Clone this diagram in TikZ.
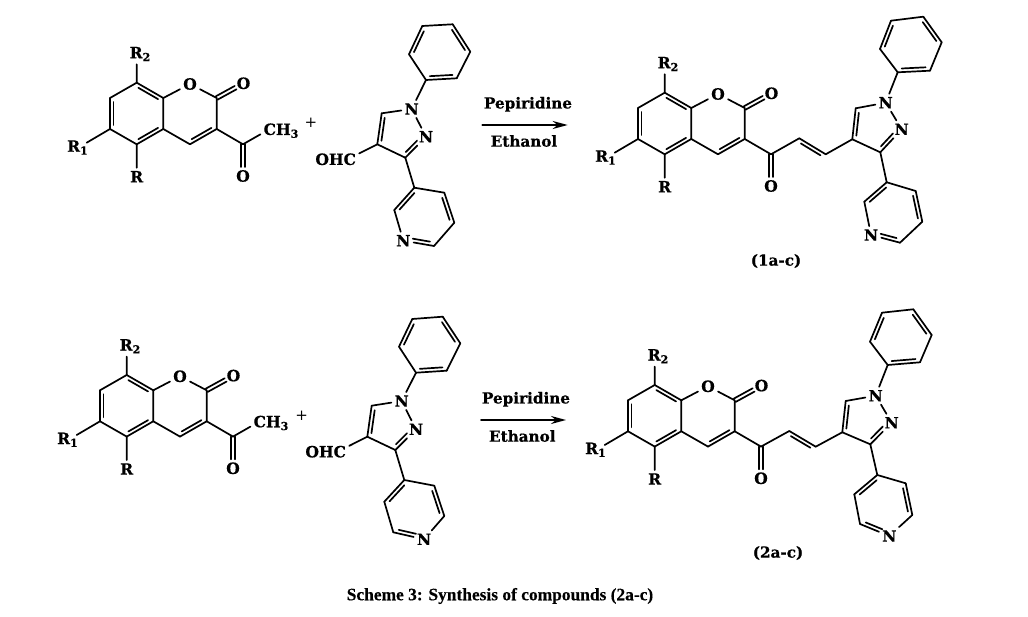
\documentclass[tikz,border=0pt]{standalone}
\usepackage{fontspec}
\setmainfont[BoldFeatures={FakeBold=0.6}]{DejaVu Serif}
\newfontfamily\capfont{Liberation Serif}[BoldFeatures={FakeBold=0.3}]
\usetikzlibrary{calc,arrows.meta}
\newcommand{\sbs}[1]{\raisebox{-0.35ex}{\fontsize{11}{11}\selectfont #1}}
\newcommand{\dbl}[2]{\draw (#1) -- (#2);
  \draw ($(#1)!.13!(#2)!3.6pt!-90:(#2)$) -- ($(#2)!.13!(#1)!3.6pt!90:(#1)$);}
\newcommand{\dbln}[2]{\draw[shorten >=9pt] ($(#1)!1.9pt!90:(#2)$) -- ($(#2)!1.9pt!-90:(#1)$);
  \draw[shorten >=9pt] ($(#1)!1.9pt!-90:(#2)$) -- ($(#2)!1.9pt!90:(#1)$);}
% coumarin core: prefix, shift
\newcommand{\coumarin}[2]{\begin{scope}[shift={#2}]
  \coordinate (#1c8) at (136.7,82.7); \coordinate (#1c7) at (110,98);
  \coordinate (#1c6) at (110,129); \coordinate (#1c5) at (136.7,144.3);
  \coordinate (#1c4a) at (163.3,129); \coordinate (#1c8a) at (163.3,98);
  \coordinate (#1c2) at (216.7,98); \coordinate (#1c3) at (216.7,129);
  \coordinate (#1c4) at (190,144.3); \coordinate (#1ac) at (243,144.3);
  \coordinate (#1r1b) at (86.7,142.7);
  \node[atom] (#1o1) at (190,84) {O};
  \node[atom] (#1o2) at (243.5,83.3) {O};
  \node[atom] (#1o3) at (243,176) {O};
  \node[atom] (#1r) at (136.7,176.7) {R};
  \node[atom] (#1r2) at (140,54) {R\sbs{2}};
  \node[atom] (#1r1) at (77.5,147.5) {R\sbs{1}};
  \end{scope}
  \dbl{#1c8}{#1c8a} \dbl{#1c4a}{#1c5} \dbl{#1c6}{#1c7}
  \draw (#1c7) -- (#1c8) (#1c5) -- (#1c6) (#1c8a) -- (#1c4a);
  \draw (#1c8a) -- (#1o1) -- (#1c2) -- (#1c3) (#1c4) -- (#1c4a);
  \dbl{#1c3}{#1c4}
  \draw (#1c3) -- (#1ac);
  \dbln{#1c2}{#1o2} \dbln{#1ac}{#1o3}
  \draw (#1c8) -- (#1r2.south -| #1c8) (#1c5) -- (#1r.north) (#1c6) -- (#1r1b);}
% pyrazole: prefix, C4, C5, N1, N2, C3
\newcommand{\pyrazole}[6]{\coordinate (#1c4) at #2; \coordinate (#1c5) at #3;
  \node[atom] (#1n1) at #4 {N}; \node[atom] (#1n2) at #5 {N}; \coordinate (#1c3) at #6;
  \draw (#1c5) -- (#1n1) -- (#1n2); \draw (#1c3) -- (#1c4);
  \dbl{#1c4}{#1c5}
  \draw (#1c3) -- (#1n2);
  \draw[shorten <=9pt] ($(#1n2)!3.6pt!-90:(#1c3)$) -- ($(#1c3)!.15!(#1n2)!3.6pt!90:(#1n2)$);}
% phenyl on N1: prefix, six ring points clockwise from ipso
\newcommand{\phenyl}[7]{\coordinate (#1i) at #2; \coordinate (#1a) at #3; \coordinate (#1b) at #4;
  \coordinate (#1d) at #5; \coordinate (#1e) at #6; \coordinate (#1f) at #7;
  \draw (#1i) -- (#1a) (#1b) -- (#1d) (#1e) -- (#1f);
  \dbl{#1a}{#1b} \dbl{#1d}{#1e} \dbl{#1f}{#1i}
  \draw (#1i) -- (#1n1);}
% 3-pyridyl: prefix, attach, then clockwise with N fourth
\newcommand{\pyrthree}[7]{\coordinate (#1p) at #2; \coordinate (#1q) at #3; \coordinate (#1s) at #4;
  \coordinate (#1t) at #5; \node[atom] (#1pn) at #6 {N}; \coordinate (#1v) at #7;
  \draw (#1p) -- (#1q) (#1s) -- (#1t) (#1pn) -- (#1v);
  \dbl{#1q}{#1s} \dbl{#1v}{#1p}
  \draw (#1t) -- (#1pn);
  \draw[shorten >=9pt] ($(#1t)!.15!(#1pn)!3.6pt!-90:(#1pn)$) -- ($(#1pn)!3.6pt!90:(#1t)$);
  \draw (#1c3) -- (#1p);}
% 4-pyridyl: prefix, attach, clockwise with N third
\newcommand{\pyrfour}[7]{\coordinate (#1p) at #2; \coordinate (#1q) at #3; \coordinate (#1s) at #4;
  \node[atom] (#1pn) at #5 {N}; \coordinate (#1t) at #6; \coordinate (#1v) at #7;
  \draw (#1p) -- (#1q) (#1s) -- (#1pn) (#1t) -- (#1v);
  \dbl{#1q}{#1s} \dbl{#1v}{#1p}
  \draw (#1pn) -- (#1t);
  \draw[shorten <=9pt] ($(#1pn)!3.6pt!-90:(#1t)$) -- ($(#1t)!.15!(#1pn)!3.6pt!90:(#1pn)$);
  \draw (#1c3) -- (#1p);}
\tikzset{
  x=1pt,y=-1pt,
  every path/.style={line width=1.7pt,line cap=round,line join=round,black},
  atom/.style={font=\fontsize{15.5}{15.5}\selectfont\bfseries,inner sep=2.4pt,fill=none},
  rxn/.style={font=\fontsize{15.2}{15.2}\selectfont\bfseries,inner sep=0pt},
  plus/.style={font=\fontsize{15}{15}\selectfont,inner sep=0pt},
  rarrow/.style={-{Stealth[length=15pt,width=8pt]},line width=2pt},
  caption/.style={font=\fontsize{17.4}{18}\selectfont\capfont\bfseries,inner sep=0pt}
}
\begin{document}
\begin{tikzpicture}
\useasboundingbox (0,0) rectangle (1028,617);
\fill[white] (0,0) rectangle (1028,617);
% reactants, top
\coumarin{a}{(0,0)}
\node[atom] (ach) at (281,130.7) {CH\sbs{3}};
\draw (aac) -- (ach.190);
\node[plus] (aplus) at (311,122.7) {+};
\pyrazole{b}{(377.3,144.3)}{(381.7,113.3)}{(411.7,109)}{(426,136.7)}{(405.3,157.7)}
\phenyl{b}{(426,80)}{(409,54.3)}{(422.3,26)}{(452.7,24.3)}{(470.3,51.7)}{(456.7,78.3)}
\pyrthree{b}{(414.3,187.7)}{(444.3,192.7)}{(454.3,222.7)}{(434,246)}{(403.3,240.7)}{(394.3,210)}
\node[atom] (bohc) at (335.7,159.3) {OHC};
\draw (bc4) -- (bohc.14);
% arrow, top
\node[rxn] (l1) at (528,104.3) {Pepiridine};
\node[rxn] (l2) at (524,141) {Ethanol};
\coordinate (s1) at (482.3,125); \coordinate (e1) at (567.7,125);
\draw[rarrow] (s1) -- (e1);
% product 1
\coumarin{c}{(528,10)}
\coordinate (cv1) at (799.3,138.3); \coordinate (cv2) at (825.7,154.3);
\pyrazole{d}{(852.3,139.3)}{(855.7,108.3)}{(885.7,102.7)}{(901.7,129.3)}{(880.3,152.3)}
\draw (cac) -- (cv1) (cv2) -- (dc4);
\dbl{cv1}{cv2}
\phenyl{d}{(897.7,72.3)}{(880,49)}{(891,20.7)}{(923.3,16.7)}{(941.7,42.3)}{(930,70.7)}
\pyrthree{d}{(886.7,182.3)}{(915.7,191)}{(922.3,221.7)}{(900,242.7)}{(871,235)}{(864.3,201.7)}
\node[rxn] (n1) at (776,261) {(1a-c)};
% reactants, bottom
\coumarin{e}{(-10,292.3)}
\node[atom] (ech) at (271,423) {CH\sbs{3}};
\draw (eac) -- (ech.190);
\node[plus] (eplus) at (301.7,415.7) {+};
\pyrazole{f}{(367.3,436.7)}{(371.7,405.7)}{(401.7,401)}{(416,429.3)}{(395.3,450)}
\phenyl{f}{(416,372.7)}{(399,346.7)}{(412.3,319)}{(442.7,316.7)}{(460.3,343.3)}{(446.7,370.7)}
\pyrfour{f}{(404.3,480)}{(434.3,485.7)}{(444.3,516)}{(424,539.3)}{(393.3,532.3)}{(384.3,501.7)}
\node[atom] (fohc) at (325.7,451.7) {OHC};
\draw (fc4) -- (fohc.14);
% arrow, bottom
\node[rxn] (l3) at (526,399.3) {Pepiridine};
\node[rxn] (l4) at (522.3,436) {Ethanol};
\coordinate (s2) at (481,420); \coordinate (e2) at (566,420);
\draw[rarrow] (s2) -- (e2);
% product 2
\coumarin{g}{(518,302.3)}
\coordinate (gv1) at (789.3,431); \coordinate (gv2) at (815.7,446.7);
\pyrazole{h}{(842.3,432.3)}{(845.7,401)}{(875.7,395.7)}{(891.7,422.7)}{(870.3,444.3)}
\draw (gac) -- (gv1) (gv2) -- (hc4);
\dbl{gv1}{gv2}
\phenyl{h}{(887.7,365)}{(870,341.7)}{(882,312.7)}{(913.3,309.3)}{(931.7,335)}{(920,362.3)}
\pyrfour{h}{(877.3,475)}{(905.7,483.3)}{(912.3,515)}{(889.3,536)}{(860,524)}{(854.3,494.3)}
\node[rxn] (n2) at (778,553) {(2a-c)};
\node[caption] (cap) at (500,596) {Scheme 3: Synthesis of compounds (2a-c)};
\end{tikzpicture}
\end{document}
